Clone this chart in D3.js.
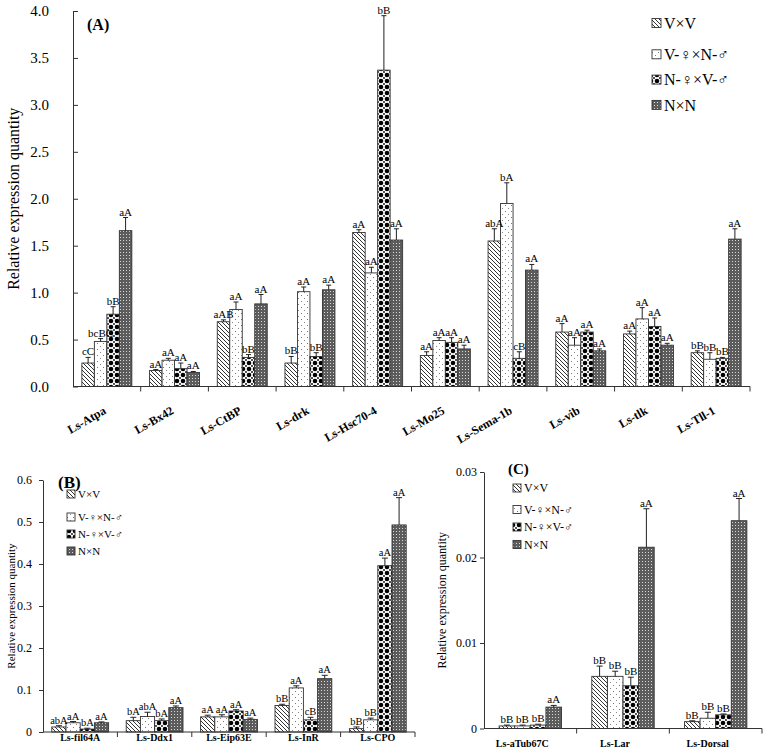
<!DOCTYPE html>
<html><head><meta charset="utf-8">
<script src="https://cdn.jsdelivr.net/npm/d3@7"></script>
<style>body{margin:0;background:#fff}svg{display:block}</style>
</head><body><svg id="c" width="765" height="751"></svg>
<script>
// ---------- DATA ----------
const seriesNames = ["V×V", "V-♀×N-♂", "N-♀×V-♂", "N×N"];

const genesA = ["Ls-Atpa","Ls-Bx42","Ls-CtBP","Ls-drk","Ls-Hsc70-4","Ls-Mo25","Ls-Sema-1b","Ls-vib","Ls-tlk","Ls-Tll-1"];
const aVV = [0.25,0.17,0.69,0.25,1.64,0.33,1.55,0.58,0.56,0.36];
const aVN = [0.48,0.28,0.82,1.01,1.21,0.49,1.95,0.44,0.72,0.29];
const aNV = [0.77,0.19,0.31,0.32,3.37,0.47,0.30,0.58,0.64,0.30];
const aNN = [1.66,0.15,0.88,1.03,1.56,0.40,1.24,0.38,0.44,1.57];
const aVVerr = [0.06,0.01,0.02,0.07,0.03,0.04,0.13,0.09,0.03,0.02];
const aVNerr = [0.03,0.02,0.08,0.05,0.06,0.03,0.22,0.08,0.12,0.07];
const aNVerr = [0.08,0.06,0.03,0.04,0.58,0.05,0.07,0.02,0.09,0.01];
const aNNerr = [0.14,0.01,0.10,0.05,0.12,0.04,0.06,0.02,0.02,0.11];
const aVVsig = ["cC","aA","aAB","bB","aA","aA","abA","aA","aA","bB"];
const aVNsig = ["bcBC","aA","aA","aA","aA","aA","bA","aA","aA","bB"];
const aNVsig = ["bB","aA","bB","bB","bB","aA","cB","aA","aA","bB"];
const aNNsig = ["aA","aA","aA","aA","aA","aA","aA","aA","aA","aA"];
const ticksA = [0,0.5,1,1.5,2,2.5,3,3.5,4];

const genesB = ["Ls-fil64A","Ls-Ddx1","Ls-Eip63E","Ls-InR","Ls-CPO"];
const bVV = [0.012,0.027,0.036,0.063,0.008];
const bVN = [0.022,0.037,0.036,0.105,0.029];
const bNV = [0.007,0.027,0.050,0.029,0.396];
const bNN = [0.022,0.058,0.030,0.127,0.493];
const bVVerr = [0.003,0.008,0.004,0.003,0.004];
const bVNerr = [0.003,0.010,0.005,0.005,0.004];
const bNVerr = [0.002,0.004,0.003,0.006,0.018];
const bNNerr = [0.002,0.004,0.003,0.008,0.065];
const bVVsig = ["abA","bA","aA","bB","bB"];
const bVNsig = ["aA","abA","aA","aA","bB"];
const bNVsig = ["bA","bA","aA","cB","aA"];
const bNNsig = ["aA","aA","aA","aA","aA"];
const ticksB = [0,0.1,0.2,0.3,0.4,0.5,0.6];

const genesC = ["Ls-aTub67C","Ls-Lar","Ls-Dorsal"];
const cVV = [0.0003,0.0061,0.0008];
const cVN = [0.0003,0.0061,0.0012];
const cNV = [0.0004,0.0050,0.0016];
const cNN = [0.0025,0.0212,0.0243];
const cVVerr = [0.0001,0.0012,0.0001];
const cVNerr = [0.0001,0.0006,0.0007];
const cNVerr = [0.0001,0.0010,0.0001];
const cNNerr = [0.0002,0.0045,0.0026];
const cVVsig = ["bB","bB","bB"];
const cVNsig = ["bB","bB","bB"];
const cNVsig = ["bB","bB","bB"];
const cNNsig = ["aA","aA","aA"];
const ticksC = [0,0.01,0.02,0.03];

// ---------- PATTERNS ----------
const FONT = "'Liberation Serif', 'Times New Roman', Times, serif";
const LEGFONT = "'Liberation Serif', 'Noto Sans CJK SC', serif";
const svg = d3.select("#c").style("font-family", FONT);
const defs = svg.append("defs");
function pat(id, w, h, draw) {
  const p = defs.append("pattern").attr("id", id).attr("patternUnits", "userSpaceOnUse")
    .attr("width", w).attr("height", h);
  draw(p);
}
pat("pVV", 4, 4, p => {
  p.append("rect").attr("width", 4).attr("height", 4).attr("fill", "#fff");
  p.append("path").attr("d", "M-1,-1L5,5M-1,3L1,5M3,-1L5,1").attr("stroke", "#333").attr("stroke-width", 1);
});
pat("pVN", 6, 6, p => {
  p.append("rect").attr("width", 6).attr("height", 6).attr("fill", "#fff");
  p.append("rect").attr("x", 1).attr("y", 1).attr("width", 1).attr("height", 1).attr("fill", "#777");
  p.append("rect").attr("x", 4).attr("y", 4).attr("width", 1).attr("height", 1).attr("fill", "#888");
});
pat("pNV", 6, 6, p => {
  p.append("rect").attr("width", 6).attr("height", 6).attr("fill", "#fff");
  p.append("circle").attr("cx", 3).attr("cy", 3).attr("r", 2.3).attr("fill", "#000");
  [[0,0],[6,0],[0,6],[6,6]].forEach(([a,b]) => p.append("circle").attr("cx", a).attr("cy", b).attr("r", 0.9).attr("fill", "#000"));
});
pat("pNN", 3, 3, p => {
  p.append("rect").attr("width", 3).attr("height", 3).attr("fill", "#5c5c5c");
  p.append("rect").attr("width", 1).attr("height", 1).attr("fill", "#d8d8d8");
});
const fills = ["url(#pVV)", "url(#pVN)", "url(#pNV)", "url(#pNN)"];

// ---------- PANEL DRAWER ----------
function drawPanel(c) {
  const g = svg.append("g");
  const x0 = d3.scaleBand().domain(c.genes).range(c.xr);
  const x1 = d3.scaleBand().domain(d3.range(seriesNames.length)).range([0, x0.bandwidth()]).paddingOuter(c.outer);
  const y = d3.scaleLinear().domain(c.yd).range(c.yr);

  const recs = [];
  c.genes.forEach((gene, gi) => c.means.forEach((arr, si) => recs.push({
    gene, si, v: arr[gi], e: c.errs[si][gi], s: c.sigs[si][gi]
  })));
  const bw = x1.bandwidth();
  const cx = d => x0(d.gene) + x1(d.si) + bw / 2;

  g.selectAll("rect.bar").data(recs).join("rect").attr("class", "bar")
    .attr("x", d => x0(d.gene) + x1(d.si)).attr("y", d => y(d.v))
    .attr("width", bw).attr("height", d => y(0) - y(d.v))
    .attr("fill", d => fills[d.si]).attr("stroke", "#333").attr("stroke-width", 0.9);

  g.selectAll("line.err").data(recs).join("line").attr("class", "err")
    .attr("x1", cx).attr("x2", cx).attr("y1", d => y(d.v)).attr("y2", d => y(d.v + d.e))
    .attr("stroke", "#222").attr("stroke-width", 1);
  g.selectAll("line.cap").data(recs).join("line").attr("class", "cap")
    .attr("x1", d => cx(d) - c.cap / 2).attr("x2", d => cx(d) + c.cap / 2)
    .attr("y1", d => y(d.v + d.e)).attr("y2", d => y(d.v + d.e))
    .attr("stroke", "#222").attr("stroke-width", 1);
  g.selectAll("text.sig").data(recs).join("text").attr("class", "sig")
    .attr("x", cx).attr("y", d => y(d.v + d.e) - 2).attr("fill", "#000")
    .attr("text-anchor", "middle").attr("font-size", c.sigFont).text(d => d.s);

  // y axis
  const ya = g.append("g").attr("transform", `translate(${c.xr[0]},0)`)
    .call(d3.axisLeft(y).tickValues(c.ticks).tickFormat(c.fmt).tickSize(c.tickSize).tickSizeOuter(0).tickPadding(c.tickPad));
  ya.attr("font-family", FONT).attr("font-size", c.tickFont);
  ya.selectAll("path,line").attr("stroke", "#333");
  ya.selectAll("text").attr("fill", "#000");

  // x axis line + separators
  g.append("line").attr("x1", c.xr[0]).attr("x2", c.xr[1]).attr("y1", y(0)).attr("y2", y(0))
    .attr("stroke", "#333").attr("stroke-width", 1.2);
  const seps = c.genes.slice(1).map(d => x0(d)).concat([c.xr[1]]);
  g.selectAll("line.sep").data(seps).join("line").attr("class", "sep")
    .attr("x1", d => d).attr("x2", d => d).attr("y1", y(0)).attr("y2", y(0) + 5).attr("stroke", "#333");

  // x labels
  const lab = g.selectAll("text.xl").data(c.genes).join("text").attr("class", "xl")
    .attr("font-weight", "bold").attr("font-size", c.xlFont).text(d => d);
  if (c.rotate) {
    lab.attr("text-anchor", "end")
      .attr("transform", d => `translate(${x0(d) + x0.bandwidth() / 2},${c.xlY}) rotate(${c.rotate})`);
  } else {
    lab.attr("text-anchor", "middle").attr("x", d => x0(d) + x0.bandwidth() / 2 + c.xlDx).attr("y", c.xlY);
  }

  // y title
  g.append("text").attr("transform", `translate(${c.titleX},${(c.yr[0] + c.yr[1]) / 2}) rotate(-90)`)
    .attr("text-anchor", "middle").attr("font-size", c.titleFont).text("Relative expression quantity");

  // panel tag
  g.append("text").attr("x", c.tag[0]).attr("y", c.tag[1]).attr("font-weight", "bold")
    .attr("font-size", c.tagFont).text(c.tagText);

  // legend
  const lg = g.append("g");
  seriesNames.forEach((n, i) => {
    const ly = c.leg.y0 + (i > 0 ? c.leg.extra : 0) + i * c.leg.gap;
    lg.append("rect").attr("x", c.leg.x).attr("y", ly - c.leg.sw / 2).attr("width", c.leg.sw).attr("height", c.leg.sw)
      .attr("fill", fills[i]).attr("stroke", "#333").attr("stroke-width", 0.9);
    lg.append("text").attr("x", c.leg.x + c.leg.sw + 3).attr("y", ly).attr("dy", "0.35em")
      .style("font-family", LEGFONT).attr("font-size", c.leg.font).text(n);
  });
}

drawPanel({
  genes: genesA, means: [aVV, aVN, aNV, aNN], errs: [aVVerr, aVNerr, aNVerr, aNNerr], sigs: [aVVsig, aVNsig, aNVsig, aNNsig],
  xr: [73, 750], yd: [0, 4], yr: [386.5, 11], ticks: ticksA, fmt: d3.format(".1f"),
  tickSize: -5, tickPad: 24, tickFont: 15, outer: 0.71, cap: 5, sigFont: 11,
  rotate: -30, xlFont: 12, xlY: 413, titleX: 19, titleFont: 16,
  tag: [87, 30], tagFont: 16, tagText: "(A)",
  leg: { x: 652, y0: 23, extra: 6, gap: 25.3, sw: 9, font: 16 }
});
drawPanel({
  genes: genesB, means: [bVV, bVN, bNV, bNN], errs: [bVVerr, bVNerr, bNVerr, bNNerr], sigs: [bVVsig, bVNsig, bNVsig, bNNsig],
  xr: [43, 415], yd: [0, 0.6], yr: [732, 480], ticks: ticksB, fmt: d => d === 0 ? "0" : d3.format(".1f")(d),
  tickSize: 4, tickPad: 7, tickFont: 12, outer: 0.62, cap: 6, sigFont: 10.5,
  rotate: 0, xlFont: 10, xlY: 741, xlDx: 0, titleX: 15, titleFont: 11,
  tag: [58, 488], tagFont: 17, tagText: "(B)",
  leg: { x: 67, y0: 494, extra: 6, gap: 17, sw: 8, font: 11 }
});
drawPanel({
  genes: genesC, means: [cVV, cVN, cNV, cNN], errs: [cVVerr, cVNerr, cNVerr, cNNerr], sigs: [cVVsig, cVNsig, cNVsig, cNNsig],
  xr: [484, 762], yd: [0, 0.03], yr: [728.5, 472], ticks: ticksC, fmt: d => d === 0 ? "0" : d3.format(".2f")(d),
  tickSize: 4, tickPad: 3, tickFont: 12, outer: 0.97, cap: 6, sigFont: 11,
  rotate: 0, xlFont: 10, xlY: 747, xlDx: -8, titleX: 446, titleFont: 12,
  tag: [508, 474], tagFont: 15, tagText: "(C)",
  leg: { x: 513, y0: 488, extra: 4, gap: 17.5, sw: 8, font: 12 }
});
</script></body></html>
